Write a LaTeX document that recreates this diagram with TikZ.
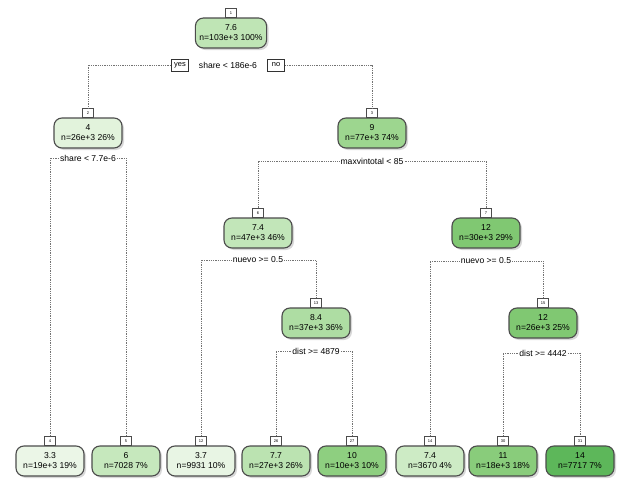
\documentclass[tikz,border=0pt]{standalone}
\usepackage{fontspec}
\setmainfont{Liberation Sans}
\usepackage{tikz}
\usetikzlibrary{positioning}
\usetikzlibrary{shadows}

\definecolor{g33}{HTML}{EBF6E7}
\definecolor{g37}{HTML}{E8F5E4}
\definecolor{g40}{HTML}{E2F3DC}
\definecolor{g60}{HTML}{C6E8BD}
\definecolor{g74}{HTML}{CDEBC5}
\definecolor{g74b}{HTML}{C2E6B9}
\definecolor{g76}{HTML}{BFE5B5}
\definecolor{g77}{HTML}{BBE3B1}
\definecolor{g84}{HTML}{AEDDA3}
\definecolor{g90}{HTML}{9DD68F}
\definecolor{g100}{HTML}{8ECF80}
\definecolor{g110}{HTML}{89CC7B}
\definecolor{g120}{HTML}{80C872}
\definecolor{g140}{HTML}{5DB75A}

\begin{document}
\begin{tikzpicture}[x=1pt, y=-1pt, font=\fontsize{8.6}{10}\selectfont,
        box_style/.style={rectangle, rounded corners=8pt, draw=black!70, line width=1.1pt, fill=#1, align=center, minimum width=68pt, minimum height=30pt, inner xsep=4pt, inner ysep=2pt, drop shadow={shadow xshift=2pt, shadow yshift=-2pt, fill=black!30}},
        tab_style/.style={rectangle, draw=black!70, line width=0.9pt, fill=white, minimum width=11pt, minimum height=9pt, inner sep=0pt, font=\fontsize{4}{4}\selectfont},
        split_style/.style={inner sep=1pt, font=\fontsize{8.6}{10}\selectfont},
        yesno_style/.style={rectangle, draw=black!80, line width=0.9pt, minimum width=17pt, minimum height=12pt, inner sep=1pt, font=\fontsize{7.5}{8}\selectfont},
        edge_style/.style={draw=black!55, densely dotted, line width=0.8pt}]

        \useasboundingbox (0,0) rectangle (619,479);

        % inner nodes
        \node [box_style=g76](n1) at (231,33) {7.6\\n=103e+3 100\%};
        \node [tab_style, above=-0.5pt of n1](t1) {1};
        \node [yesno_style](y1) at (180,65) {yes};
        \node [split_style](s1) at (228,65) {share < 186e-6};
        \node [yesno_style](o1) at (276,65) {no};

        \node [box_style=g40](n2) at (88,133) {4\\n=26e+3 26\%};
        \node [tab_style, above=-0.5pt of n2](t2) {2};
        \node [split_style](s2) at (88,158) {share < 7.7e-6};

        \node [box_style=g90](n3) at (372,133) {9\\n=77e+3 74\%};
        \node [tab_style, above=-0.5pt of n3](t3) {3};
        \node [split_style](s3) at (372,161) {maxvintotal < 85};

        \node [box_style=g74b](n6) at (258,233) {7.4\\n=47e+3 46\%};
        \node [tab_style, above=-0.5pt of n6](t6) {6};
        \node [split_style](s6) at (258,260) {nuevo >= 0.5};

        \node [box_style=g120](n7) at (486,233) {12\\n=30e+3 29\%};
        \node [tab_style, above=-0.5pt of n7](t7) {7};
        \node [split_style](s7) at (486,261) {nuevo >= 0.5};

        \node [box_style=g84](n13) at (316,323) {8.4\\n=37e+3 36\%};
        \node [tab_style, above=-0.5pt of n13](t13) {13};
        \node [split_style](s13) at (316,351) {dist >= 4879};

        \node [box_style=g120](n15) at (543,323) {12\\n=26e+3 25\%};
        \node [tab_style, above=-0.5pt of n15](t15) {15};
        \node [split_style](s15) at (543,353) {dist >= 4442};

        % leaves
        \node [box_style=g33](n4) at (50,461) {3.3\\n=19e+3 19\%};
        \node [tab_style, above=-0.5pt of n4](t4) {4};
        \node [box_style=g60](n5) at (126,461) {6\\n=7028 7\%};
        \node [tab_style, above=-0.5pt of n5](t5) {5};
        \node [box_style=g37](n12) at (201,461) {3.7\\n=9931 10\%};
        \node [tab_style, above=-0.5pt of n12](t12) {12};
        \node [box_style=g77](n26) at (276,461) {7.7\\n=27e+3 26\%};
        \node [tab_style, above=-0.5pt of n26](t26) {26};
        \node [box_style=g100](n27) at (352,461) {10\\n=10e+3 10\%};
        \node [tab_style, above=-0.5pt of n27](t27) {27};
        \node [box_style=g74](n14) at (430,461) {7.4\\n=3670 4\%};
        \node [tab_style, above=-0.5pt of n14](t14) {14};
        \node [box_style=g110](n30) at (503,461) {11\\n=18e+3 18\%};
        \node [tab_style, above=-0.5pt of n30](t30) {30};
        \node [box_style=g140](n31) at (580,461) {14\\n=7717 7\%};
        \node [tab_style, above=-0.5pt of n31](t31) {31};

        % branches
        \draw [edge_style] (y1.west) -| (t2.north);
        \draw [edge_style] (o1.east) -| (t3.north);
        \draw [edge_style] (s2.west) -| (t4.north);
        \draw [edge_style] (s2.east) -| (t5.north);
        \draw [edge_style] (s3.west) -| (t6.north);
        \draw [edge_style] (s3.east) -| (t7.north);
        \draw [edge_style] (s6.west) -| (t12.north);
        \draw [edge_style] (s6.east) -| (t13.north);
        \draw [edge_style] (s7.west) -| (t14.north);
        \draw [edge_style] (s7.east) -| (t15.north);
        \draw [edge_style] (s13.west) -| (t26.north);
        \draw [edge_style] (s13.east) -| (t27.north);
        \draw [edge_style] (s15.west) -| (t30.north);
        \draw [edge_style] (s15.east) -| (t31.north);

        \end{tikzpicture}
\end{document}
